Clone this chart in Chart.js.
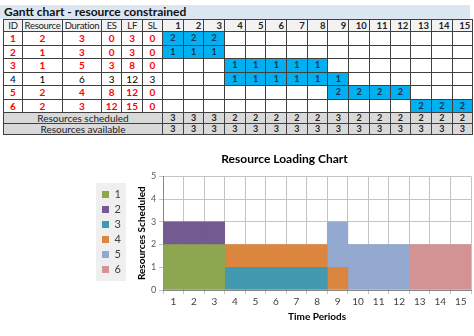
<!DOCTYPE html>
<html>
<head>
<meta charset="utf-8">
<script src="https://cdn.jsdelivr.net/npm/chart.js@4.4.1/dist/chart.umd.min.js"></script>
<style>
  body { margin: 0; width: 474px; height: 336px; background: #fff; position: relative; overflow: hidden;
         font-family: Lato, "Liberation Sans", sans-serif; }
  #ganttTitle { position: absolute; left: 0; top: 5px; width: 470px; height: 14px; background: #DCE6F1;
                font-weight: bold; font-size: 12px; line-height: 14px; padding-left: 4px; box-sizing: border-box; color: #111; }
  #gantt { position: absolute; left: 3px; top: 19px; border-collapse: collapse; table-layout: fixed; font-size: 10px; }
  #gantt td { border: 1px solid #404040; padding: 0; text-align: center; overflow: hidden; white-space: nowrap; }
  #gantt tr.head td { background: #F2F2F2; color: #222; height: 11px; line-height: 11px; font-size: 9.5px; letter-spacing: -0.3px; }
  #gantt tr.head td.per { text-align: right; padding-right: 2px; font-weight: bold; letter-spacing: 0; }
  #gantt tr.task td { height: 12.5px; line-height: 12px; }
  #gantt td.crit { color: #FF0000; font-weight: bold; }
  #gantt td.plain { color: #000000; }
  #gantt td.bar { background: #00B0F0; color: #1F3050; font-weight: bold; font-size: 9px; }
  #gantt tr.sum td { background: #D9D9D9; color: #222; height: 10px; line-height: 10px; }
  #gantt tr.sum td.num { font-weight: bold; font-size: 9px; }
  #wrap { position: absolute; left: 92px; top: 140px; width: 382px; height: 196px; }
</style>
</head>
<body>
<div id="ganttTitle">Gantt chart - resource constrained</div>
<table id="gantt"></table>
<div id="wrap"><canvas id="loadChart" width="382" height="196"></canvas></div>
<script>
// table data
const headers = ["ID", "Resource", "Duration", "ES", "LF", "SL"];
const periods = [1, 2, 3, 4, 5, 6, 7, 8, 9, 10, 11, 12, 13, 14, 15];
const taskIds = [1, 2, 3, 4, 5, 6];
const resource = [2, 1, 1, 1, 2, 2];
const duration = [3, 3, 5, 6, 4, 3];
const es = [0, 0, 3, 3, 8, 12];
const lf = [3, 3, 8, 12, 12, 15];
const sl = [0, 0, 0, 3, 0, 0];
const critical = [true, true, true, false, true, true];

// resources used by each task per period
const load1 = [2, 2, 2, 0, 0, 0, 0, 0, 0, 0, 0, 0, 0, 0, 0];
const load2 = [1, 1, 1, 0, 0, 0, 0, 0, 0, 0, 0, 0, 0, 0, 0];
const load3 = [0, 0, 0, 1, 1, 1, 1, 1, 0, 0, 0, 0, 0, 0, 0];
const load4 = [0, 0, 0, 1, 1, 1, 1, 1, 1, 0, 0, 0, 0, 0, 0];
const load5 = [0, 0, 0, 0, 0, 0, 0, 0, 2, 2, 2, 2, 0, 0, 0];
const load6 = [0, 0, 0, 0, 0, 0, 0, 0, 0, 0, 0, 0, 2, 2, 2];
const scheduled = [3, 3, 3, 2, 2, 2, 2, 2, 3, 2, 2, 2, 2, 2, 2];
const available = [3, 3, 3, 3, 3, 3, 3, 3, 3, 3, 3, 3, 3, 3, 3];

const loads = [load1, load2, load3, load4, load5, load6];
const colors = ["#8CA74F", "#735A91", "#4399B0", "#DC853F", "#93A9CF", "#D39392"];
const colWidths = [19, 40, 39, 20.3, 20.7, 20];
const perWidth = 20.7;

function buildTable() {
  const tbl = document.getElementById("gantt");
  let html = "<colgroup>";
  colWidths.forEach((w) => (html += `<col style="width:${w}px">`));
  periods.forEach(() => (html += `<col style="width:${perWidth}px">`));
  html += "</colgroup>";

  html += '<tr class="head">';
  headers.forEach((h) => (html += `<td>${h}</td>`));
  periods.forEach((p) => (html += `<td class="per">${p}</td>`));
  html += "</tr>";

  taskIds.forEach((id, i) => {
    const cls = critical[i] ? "crit" : "plain";
    html += '<tr class="task">';
    [id, resource[i], duration[i], es[i], lf[i], sl[i]].forEach(
      (v) => (html += `<td class="${cls}">${v}</td>`)
    );
    loads[i].forEach((v) => {
      html += v ? `<td class="bar">${v}</td>` : "<td></td>";
    });
    html += "</tr>";
  });

  html += '<tr class="sum"><td colspan="6">Resources scheduled</td>';
  scheduled.forEach((v) => (html += `<td class="num">${v}</td>`));
  html += "</tr>";
  html += '<tr class="sum"><td colspan="6">Resources available</td>';
  available.forEach((v) => (html += `<td class="num">${v}</td>`));
  html += "</tr>";
  tbl.innerHTML = html;
}

// light grey panel behind the legend entries
const legendPanel = {
  id: "legendPanel",
  beforeDraw(chart) {
    const boxes = chart.legend && chart.legend.legendHitBoxes;
    if (!boxes || !boxes.length) return;
    const left = Math.min(...boxes.map((b) => b.left)) - 6;
    const top = Math.min(...boxes.map((b) => b.top)) - 6;
    const right = Math.max(...boxes.map((b) => b.left + b.width)) + 5;
    const bottom = Math.max(...boxes.map((b) => b.top + b.height)) + 6;
    const ctx = chart.ctx;
    ctx.save();
    ctx.fillStyle = "#EFEFEF";
    ctx.fillRect(left, top, right - left, bottom - top);
    ctx.restore();
  },
};

function initChart() {
  Chart.defaults.font.family = "Lato, 'Liberation Sans', sans-serif";
  const ctx = document.getElementById("loadChart").getContext("2d");
  new Chart(ctx, {
    type: "bar",
    data: {
      labels: periods.map(String),
      datasets: loads.map((d, i) => ({
        label: String(taskIds[i]),
        data: d.map((v) => (v ? v : null)),
        backgroundColor: colors[i],
        borderWidth: 0,
        barPercentage: 1,
        categoryPercentage: 1,
      })),
    },
    options: {
      responsive: false,
      animation: false,
      layout: { padding: { left: 6, right: 3, top: 0, bottom: 12 } },
      plugins: {
        title: {
          display: true,
          text: "Resource Loading Chart",
          color: "#000",
          font: { size: 12, weight: "bold" },
          padding: { top: 12, bottom: 10 },
        },
        legend: {
          position: "left",
          labels: { boxWidth: 7, boxHeight: 7, padding: 4, color: "#404040", font: { size: 11 } },
        },
        tooltip: { enabled: false },
      },
      scales: {
        x: {
          stacked: true,
          grid: { color: "#C4C4C4", tickLength: 4, offset: true },
          border: { color: "#868686" },
          ticks: { color: "#404040", font: { size: 10 }, padding: 2 },
          title: { display: true, text: "Time Periods", color: "#000", font: { size: 10, weight: "bold" }, padding: 1 },
        },
        y: {
          stacked: true,
          min: 0,
          max: 5,
          grid: { color: "#C4C4C4", tickLength: 4 },
          border: { color: "#868686" },
          ticks: { stepSize: 1, color: "#595959", font: { size: 9 }, padding: 3 },
          title: { display: true, text: "Resources Scheduled", color: "#000", font: { size: 10, weight: "bold" }, padding: { top: 5, bottom: 0 } },
        },
      },
    },
    plugins: [legendPanel],
  });
}

buildTable();
initChart();
</script>
</body>
</html>
